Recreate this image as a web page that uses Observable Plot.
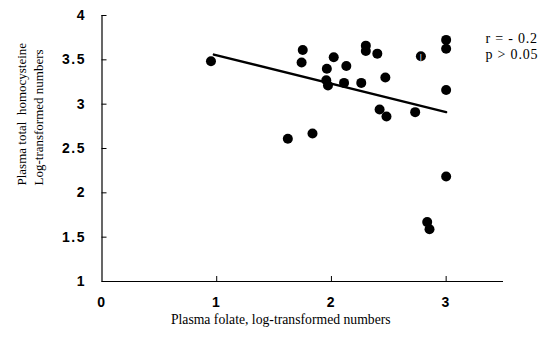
<!DOCTYPE html>
<html><head><meta charset="utf-8">
<script src="https://cdn.jsdelivr.net/npm/d3@7"></script>
<script src="https://cdn.jsdelivr.net/npm/@observablehq/plot@0.6"></script>
<style>body{margin:0;background:#fff}</style>
</head><body><div id="chart"></div>
<script>
const folate =       [0.95, 1.75, 1.74, 2.02, 1.96, 2.13, 1.955, 1.97, 2.11, 2.26, 2.30, 2.30, 2.40, 2.42, 1.62, 1.835, 2.47, 2.78, 3.00, 3.00, 3.00, 2.48, 2.73, 3.00, 2.835, 2.855];
const homocysteine = [3.485, 3.61, 3.47, 3.53, 3.40, 3.43, 3.27, 3.21, 3.24, 3.24, 3.66, 3.60, 3.57, 2.94, 2.61, 2.67, 3.30, 3.54, 3.725, 3.625, 3.16, 2.86, 2.91, 2.185, 1.67, 1.59];
const halfFilled = [17];
const fitX = [0.975, 3.0];
const fitY = [3.56, 2.91];
const xTicks = [0, 1, 2, 3];
const yTicks = [1, 1.5, 2, 2.5, 3, 3.5, 4];
const xDomain = [0, 3.5];
const yDomain = [1, 4];
const xTitle = "Plasma folate, log-transformed numbers";
const yTitle = ["Plasma total  homocysteine", "Log-transformed numbers"];
const stats = ["r = - 0.2", "p > 0.05"];

const points = folate.map((x, i) => ({x, y: homocysteine[i], half: halfFilled.includes(i)}));
const fit = fitX.map((x, i) => ({x, y: fitY[i]}));

const W = 551, H = 349, mL = 101.5, mR = 48, mT = 15, mB = 68;
const pw = W - mL - mR, ph = H - mT - mB;
const serif = "'Liberation Serif', 'Times New Roman', serif";
const sans = "'Liberation Sans', Arial, sans-serif";

const chart = Plot.plot({
  width: W, height: H,
  marginLeft: mL, marginRight: mR, marginTop: mT, marginBottom: mB,
  x: {domain: xDomain},
  y: {domain: yDomain},
  style: {background: "#fff", color: "#000"},
  marks: [
    Plot.ruleX([xDomain[0]], {stroke: "#000", strokeWidth: 1.2}),
    Plot.ruleY([yDomain[0]], {stroke: "#000", strokeWidth: 1.2}),
    Plot.tickX(xTicks.filter(d => d > xDomain[0]), {x: d => d, insetTop: ph - 5, stroke: "#000"}),
    Plot.tickY(yTicks, {y: d => d, insetRight: pw - 5, stroke: "#000"}),
    Plot.axisX(xTicks, {tickSize: 0, tickPadding: 16, tickFormat: d => String(d), fontSize: 14, fontWeight: "bold", fontFamily: sans, label: null, fill: "#000"}),
    Plot.axisY(yTicks, {tickSize: 0, tickPadding: 16, tickFormat: d => String(d), fontSize: 14, fontWeight: "bold", fontFamily: sans, label: null, fill: "#000"}),
    Plot.line(fit, {x: "x", y: "y", stroke: "#000", strokeWidth: 2.3}),
    Plot.dot(points, {x: "x", y: "y", r: 5, fill: "#000"}),
    Plot.text(points.filter(d => d.half), {x: "x", y: "y", text: () => "|", fill: "#fff", fontSize: 8, fontFamily: sans}),
    Plot.text([xTitle], {frameAnchor: "bottom", dx: -22, dy: 42, fontSize: 13.7, fontFamily: serif, fill: "#000"}),
    Plot.text([yTitle.join("\n")], {frameAnchor: "left", rotate: -90, textAnchor: "start", lineAnchor: "middle", lineHeight: 1.3, dx: -73, dy: 37, fontSize: 13, fontFamily: serif, fill: "#000"}),
    Plot.text([stats.join("\n")], {frameAnchor: "top-right", textAnchor: "start", lineAnchor: "top", lineHeight: 1.15, dx: -18, dy: 16, fontSize: 14, fontFamily: serif, fill: "#000"})
  ]
});
document.getElementById("chart").append(chart);
const svg = d3.select(chart);
svg.selectAll("g[aria-label='y-axis tick label'] text, g[aria-label='x-axis tick label'] text").style("letter-spacing", "1.5px");
svg.selectAll("g[aria-label='text'] text").filter(function () { return this.textContent.includes("0.05"); }).style("letter-spacing", "0.8px");
</script>
</body></html>
